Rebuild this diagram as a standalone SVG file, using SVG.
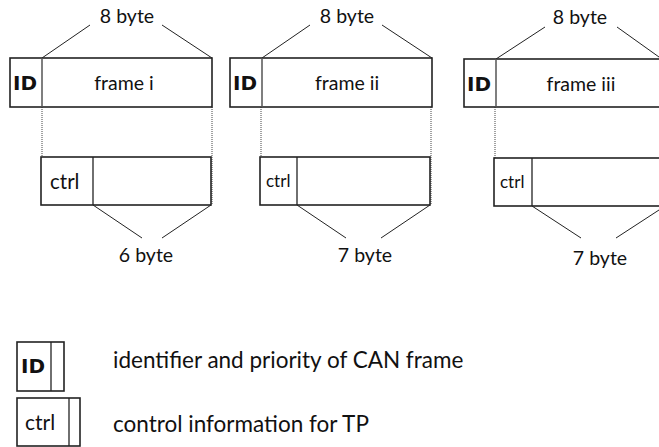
<svg xmlns="http://www.w3.org/2000/svg" width="659" height="447" viewBox="0 0 659 447">
<style>
text{font-family:Lato,"Liberation Sans",sans-serif;fill:#111}
.box{fill:#fff;stroke:#222;stroke-width:1.6}
.div{stroke:#555;stroke-width:1.5}
.div2{stroke:#222;stroke-width:1.3}
.diag{stroke:#222;stroke-width:1;fill:none}
.dot{stroke:#444;stroke-width:1;stroke-dasharray:1 1;fill:none}
.lbl{font-size:19.5px;text-anchor:middle}
.id{font-family:"DejaVu Sans",sans-serif;font-size:20px;font-weight:bold}
.leg{font-size:22.5px}
</style>
<rect width="659" height="447" fill="#fff"/>
<g id="connectors">
<line class="diag" x1="42" y1="58" x2="90" y2="25"/>
<line class="diag" x1="162" y1="25" x2="212" y2="58"/>
<line class="dot" x1="42" y1="107" x2="42" y2="205"/>
<line class="dot" x1="212" y1="107" x2="212" y2="205"/>
<line class="diag" x1="93" y1="205" x2="142" y2="238"/>
<line class="diag" x1="211" y1="205" x2="162" y2="238"/>
<line class="diag" x1="262" y1="58" x2="310" y2="25"/>
<line class="diag" x1="382" y1="25" x2="432" y2="58"/>
<line class="dot" x1="261" y1="107" x2="261" y2="205"/>
<line class="dot" x1="431" y1="107" x2="431" y2="205"/>
<line class="diag" x1="297" y1="205" x2="346" y2="238"/>
<line class="diag" x1="430" y1="205" x2="381" y2="238"/>
<line class="diag" x1="496" y1="59" x2="545" y2="27"/>
<line class="diag" x1="617" y1="27" x2="659" y2="57"/>
<line class="dot" x1="495" y1="107" x2="495" y2="206"/>
<line class="diag" x1="532" y1="206" x2="581" y2="238"/>
<line class="diag" x1="659" y1="210" x2="616" y2="238"/>
</g>
<g id="frame-i">
<text class="lbl" x="127" y="23">8 byte</text>
<rect class="box" x="10" y="58" width="202" height="49"/>
<line class="div" x1="42" y1="58" x2="42" y2="107"/>
<text class="id" x="13" y="90">ID</text>
<text class="lbl" x="124" y="90">frame i</text>
</g>
<g id="tp-i">
<rect class="box" x="41" y="157" width="170" height="48"/>
<line class="div2" x1="93" y1="157" x2="93" y2="205"/>
<text x="50" y="189" font-size="20.5">ctrl</text>
<text class="lbl" x="146" y="262">6 byte</text>
</g>
<g id="frame-ii">
<text class="lbl" x="347" y="23">8 byte</text>
<rect class="box" x="230" y="58" width="202" height="49"/>
<line class="div" x1="262" y1="58" x2="262" y2="107"/>
<text class="id" x="233" y="90">ID</text>
<text class="lbl" x="347" y="90">frame ii</text>
</g>
<g id="tp-ii">
<rect class="box" x="260" y="157" width="170" height="48"/>
<line class="div2" x1="297" y1="157" x2="297" y2="205"/>
<text x="266" y="187" font-size="17">ctrl</text>
<text class="lbl" x="365" y="262">7 byte</text>
</g>
<g id="frame-iii">
<text class="lbl" x="580" y="24">8 byte</text>
<rect class="box" x="464" y="59" width="210" height="48"/>
<line class="div" x1="496" y1="59" x2="496" y2="107"/>
<text class="id" x="467" y="91">ID</text>
<text class="lbl" x="581" y="91">frame iii</text>
</g>
<g id="tp-iii">
<rect class="box" x="494" y="158" width="180" height="48"/>
<line class="div2" x1="532" y1="158" x2="532" y2="206"/>
<text x="500" y="188" font-size="17">ctrl</text>
<text class="lbl" x="600" y="265">7 byte</text>
</g>
<g id="legend-id">
<rect class="box" x="17" y="342" width="47" height="49"/>
<line class="div2" x1="51" y1="342" x2="51" y2="391"/>
<text class="id" x="21" y="373" font-size="21px">ID</text>
<text class="leg" x="113" y="368">identifier and priority of CAN frame</text>
</g>
<g id="legend-ctrl">
<rect class="box" x="17" y="398" width="63" height="48"/>
<line class="div2" x1="69" y1="398" x2="69" y2="446"/>
<text x="25" y="430" font-size="21">ctrl</text>
<text class="leg" x="113" y="432">control information for TP</text>
</g>
</svg>
